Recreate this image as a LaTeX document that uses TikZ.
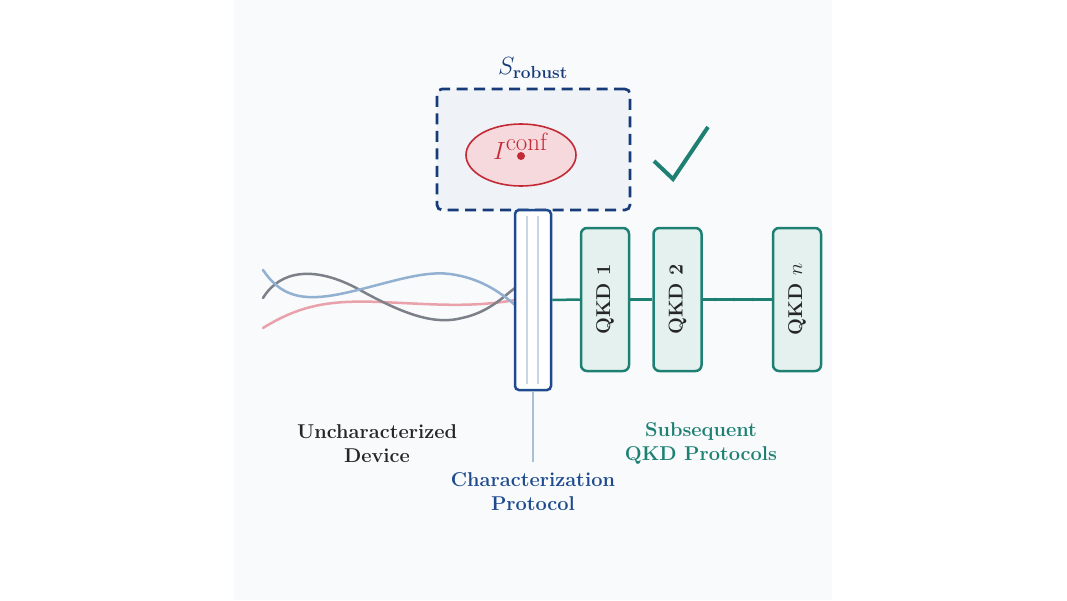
\documentclass[tikz,border=0pt]{standalone}
\usetikzlibrary{shapes.geometric}
\definecolor{panel}{HTML}{F8FAFC}
\definecolor{dblue}{HTML}{173B78}
\definecolor{bblue}{HTML}{1F4B8E}
\definecolor{boxfill}{HTML}{EFF3F8}
\definecolor{cred}{HTML}{C42A36}
\definecolor{redfill}{HTML}{F6D9DC}
\definecolor{teal}{HTML}{1D8073}
\definecolor{tealfill}{HTML}{E5F1EF}
\definecolor{lblue}{HTML}{AABFD6}
\definecolor{inner}{HTML}{C8D5E6}
\definecolor{cgray}{HTML}{7C8189}
\definecolor{cblue}{HTML}{92B0D0}
\definecolor{cpink}{HTML}{E9A2AA}
\definecolor{dtext}{HTML}{262626}
\begin{document}
\begin{tikzpicture}[x=1pt,y=-1pt,
  qkd/.style={draw=teal,fill=tealfill,line width=2.5pt,rounded corners=6pt,minimum width=48pt,minimum height=143pt,inner sep=0pt},
  qkdtext/.style={rotate=90,font=\fontsize{20}{22}\selectfont\bfseries,text=dtext},
  lbl/.style={align=center,font=\fontsize{20}{24}\selectfont\bfseries},
  wave/.style={line width=2.5pt,line cap=round}]
\useasboundingbox (0,0) rectangle (1067,600);
\fill[white] (0,0) rectangle (1067,600);
\fill[panel] (234,0) rectangle (832,600);
% robust set
\node[draw=dblue,fill=boxfill,line width=2.7pt,dash pattern=on 11pt off 6.5pt,rounded corners=5pt,minimum width=193pt,minimum height=121pt] (srob) at (533.5,149.5) {};
\node[text=dblue,font=\fontsize{23}{25}\selectfont] (slabel) at (533,68) {$S_{\mathbf{robust}}$};
\node[ellipse,draw=cred,fill=redfill,line width=1.6pt,minimum width=110pt,minimum height=62pt] (conf) at (521,155) {};
\node[text=cred,font=\fontsize{35}{37}\selectfont] (conftext) at (521,146) {$I^{\mathrm{conf}}$};
\node[circle,fill=cred,minimum size=8pt,inner sep=0pt] (pt) at (521,156) {};
% check mark
\draw[teal,line width=4pt] (654,161) -- (673,179) -- (708,127);
% waves
\coordinate (g0) at (263,298);
\coordinate (b0) at (263,270);
\coordinate (p0) at (263,328);
\draw[wave,cpink] (p0) .. controls (300,305) and (330,300) .. (380,302) .. controls (430,304) and (470,308) .. (515,300);
\draw[wave,cgray] (g0) .. controls (280,270) and (315,265) .. (360,290) .. controls (405,315) and (435,325) .. (462,318) .. controls (490,312) and (505,295) .. (515,288);
\draw[wave,cblue] (b0) .. controls (280,295) and (300,302) .. (340,294) .. controls (380,286) and (420,270) .. (450,274) .. controls (480,278) and (500,292) .. (515,305);
% characterization bar
\node[draw=bblue,fill=white,line width=2.5pt,rounded corners=4pt,minimum width=36pt,minimum height=180pt,inner sep=0pt] (bar) at (533,300) {};
\draw[inner,line width=1.3pt] ([xshift=-6pt,yshift=-7pt]bar.north) -- ([xshift=-6pt,yshift=7pt]bar.south);
\draw[inner,line width=1.3pt] ([xshift=5pt,yshift=-7pt]bar.north) -- ([xshift=5pt,yshift=7pt]bar.south);
\coordinate (barend) at (533,462);
\draw[lblue,line width=2.5pt] (bar.south) -- (barend);
% QKD boxes
\node[qkd] (q1) at (605,299.5) {};
\node[qkd] (q2) at (677.5,299.5) {};
\node[qkd] (qn) at (797,299.5) {};
\node[qkdtext] at (q1) {QKD 1};
\node[qkdtext] at (q2) {QKD 2};
\node[qkdtext] at (qn) {QKD $n$};
\draw[teal,line width=2.5pt] (bar.east) -- (q1.west);
\draw[teal,line width=2.5pt] (q1.east) -- (q2.west);
\draw[teal,line width=2.5pt] (q2.east) -- (qn.west);
\foreach \x in {715,734,753} \fill[teal] (\x,299.5) circle (1.8pt);
% labels
\node[lbl,text=dtext] (dev) at (377,444) {Uncharacterized\\Device};
\node[lbl,text=bblue] (cp) at (533,492) {Characterization\\Protocol};
\node[lbl,text=teal] (sq) at (701,443) {Subsequent\\QKD Protocols};
\end{tikzpicture}
\end{document}
